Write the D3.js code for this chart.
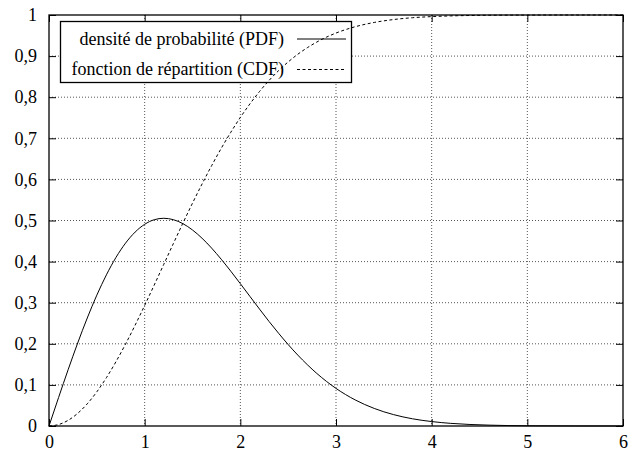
<!DOCTYPE html>
<html><head><meta charset="utf-8">
<script src="https://cdn.jsdelivr.net/npm/d3@7"></script>
<style>body{margin:0;background:#fff}svg{display:block}</style>
</head><body><svg id="c" width="632" height="452"></svg>
<script>
const xs = [0,0.1,0.2,0.3,0.4,0.5,0.6,0.7,0.8,0.9,1.0,1.1,1.2,1.3,1.4,1.5,1.6,1.7,1.8,1.9,2.0,2.1,2.2,2.3,2.4,2.5,2.6,2.7,2.8,2.9,3.0,3.2,3.4,3.6,3.8,4.0,4.2,4.4,4.6,4.8,5.0,5.5,6.0];
const pdfValues = [0,0.0692,0.1370,0.2019,0.2628,0.3184,0.3677,0.4101,0.4449,0.4718,0.4907,0.5019,0.5054,0.5020,0.4923,0.4769,0.4568,0.4328,0.4058,0.3767,0.3463,0.3154,0.2846,0.2544,0.2256,0.1982,0.1727,0.1492,0.1278,0.1086,0.0915,0.0635,0.0427,0.0278,0.0175,0.0108,0.0064,0.0037,0.0021,0.0011,0.0006,0.0001,0];
const cdfValues = [0,0.0035,0.0138,0.0308,0.0540,0.0832,0.1175,0.1565,0.1993,0.2452,0.2934,0.3430,0.3935,0.4439,0.4937,0.5422,0.5889,0.6334,0.6754,0.7145,0.7507,0.7837,0.8137,0.8407,0.8647,0.8858,0.9044,0.9204,0.9343,0.9461,0.9561,0.9714,0.9819,0.9889,0.9934,0.9961,0.9978,0.9988,0.9994,0.9997,0.9998,1.0,1.0];
const xTicks = [0,1,2,3,4,5,6];
const yTicks = [0,0.1,0.2,0.3,0.4,0.5,0.6,0.7,0.8,0.9,1];
const seriesNames = ["densité de probabilité (PDF)","fonction de répartition (CDF)"];

const L=49,R=623,T=15,B=426;
const svg=d3.select("#c");
const x=d3.scaleLinear().domain([0,6]).range([L,R]);
const y=d3.scaleLinear().domain([0,1]).range([B,T]);
const fmt=v=>String(+v.toFixed(1)).replace(".",",");
const FF="Liberation Serif";
const FS=18;

// grid
const g=svg.append("g");
g.selectAll(".gx").data(xTicks.slice(1,-1)).join("line")
 .attr("x1",d=>x(d)).attr("x2",d=>x(d)).attr("y1",T).attr("y2",B)
 .attr("stroke","#555").attr("stroke-width",1).attr("stroke-dasharray","1,2");
g.selectAll(".gy").data(yTicks.slice(1,-1)).join("line")
 .attr("y1",d=>y(d)).attr("y2",d=>y(d)).attr("x1",L).attr("x2",R)
 .attr("stroke","#555").attr("stroke-width",1).attr("stroke-dasharray","1,2");

// axes (ticks inward, mirrored)
const tl=7;
const ax=[];
ax.push(svg.append("g").attr("transform",`translate(0,${B})`).call(d3.axisBottom(x).tickValues(xTicks).tickSize(-tl).tickPadding(9.5).tickFormat(fmt)));
ax.push(svg.append("g").attr("transform",`translate(0,${T})`).call(d3.axisTop(x).tickValues(xTicks).tickSize(-tl).tickFormat("")));
ax.push(svg.append("g").attr("transform",`translate(${L},0)`).call(d3.axisLeft(y).tickValues(yTicks).tickSize(-tl).tickPadding(12).tickFormat(fmt)));
ax.push(svg.append("g").attr("transform",`translate(${R},0)`).call(d3.axisRight(y).tickValues(yTicks).tickSize(-tl).tickFormat("")));
ax.forEach(a=>{
  a.select(".domain").remove();
  a.attr("font-family",FF).attr("font-size",FS);
  a.selectAll(".tick text").attr("fill","#000");
  a.selectAll(".tick line").attr("stroke","#000");
});

svg.append("rect").attr("x",L).attr("y",T).attr("width",R-L).attr("height",B-T)
 .attr("fill","none").attr("stroke","#000").attr("stroke-width",1.3);

// legend box
const lg=svg.append("g").attr("font-family",FF).attr("font-size",FS);
lg.append("rect").attr("x",60.5).attr("y",21.5).attr("width",291).attr("height",61)
 .attr("fill","#fff").attr("stroke","#000").attr("stroke-width",1.3);
const rowsY=[39,69.5];
const dashes=[null,"3,2.5"];
seriesNames.forEach((n,i)=>{
  lg.append("text").attr("x",284).attr("y",rowsY[i]+5.5).attr("text-anchor","end").attr("fill","#000").text(n);
  lg.append("line").attr("x1",297).attr("x2",346).attr("y1",rowsY[i]).attr("y2",rowsY[i])
   .attr("stroke","#000").attr("stroke-width",1).attr("stroke-dasharray",dashes[i]);
});

// curves
const line=d3.line().x(d=>x(d[0])).y(d=>y(d[1])).curve(d3.curveMonotoneX);
[pdfValues,cdfValues].forEach((vals,i)=>{
  svg.append("path").datum(xs.map((v,j)=>[v,vals[j]])).attr("d",line)
   .attr("fill","none").attr("stroke","#000").attr("stroke-width",1).attr("stroke-dasharray",dashes[i]);
});
</script></body></html>
